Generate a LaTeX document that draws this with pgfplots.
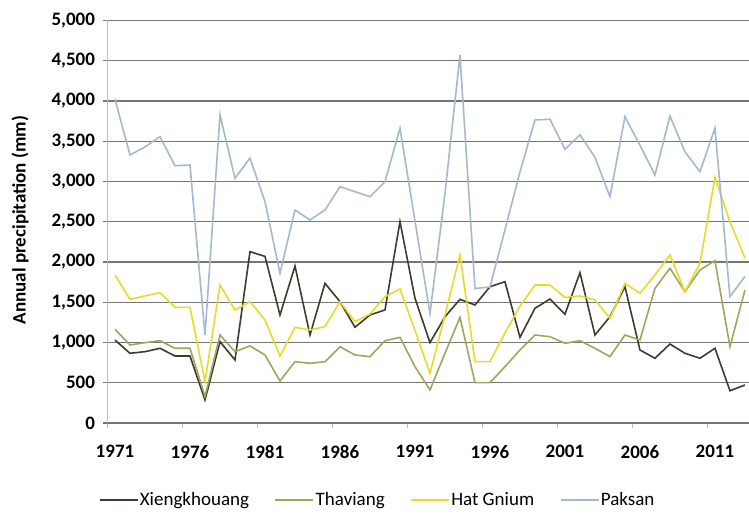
\documentclass[border=0pt]{standalone}
\usepackage{pgfplots}
\pgfplotsset{compat=1.18}
\usepackage{pgfplotstable}
\usepackage{fontspec}
\setmainfont{Carlito}
\definecolor{xieng}{RGB}{60,60,44}
\definecolor{thav}{RGB}{158,166,96}
\definecolor{hatg}{RGB}{232,218,40}
\definecolor{paks}{RGB}{164,184,208}
\definecolor{gridgray}{RGB}{118,118,118}
\definecolor{axgray}{RGB}{190,190,190}
\pgfplotstableread{
year xieng thav hatg paks
1971 1030 1164 1839 4020
1972 866 969 1536 3329
1973 886 998 1578 3430
1974 928 1022 1619 3557
1975 832 928 1437 3196
1976 832 928 1437 3205
1977 286 330 513 1093
1978 1010 1093 1714 3826
1979 783 886 1404 3040
1980 2128 957 1507 3290
1981 2070 845 1280 2750
1982 1342 522 832 1860
1983 1950 762 1189 2646
1984 1093 741 1155 2522
1985 1735 762 1197 2646
1986 1507 948 1507 2935
1987 1189 845 1259 2873
1988 1342 824 1354 2811
1989 1404 1022 1569 2998
1990 2501 1064 1665 3661
1991 1550 700 1150 2510
1992 998 410 617 1360
1993 1320 866 1340 2850
1994 1536 1313 2087 4571
1995 1466 501 762 1670
1996 1693 501 762 1690
1997 1755 700 1120 2400
1998 1064 907 1450 3120
1999 1425 1093 1714 3764
2000 1540 1072 1714 3773
2001 1350 990 1560 3400
2002 1867 1022 1578 3580
2003 1093 928 1528 3300
2004 1320 824 1300 2811
2005 1693 1093 1735 3805
2006 907 1031 1611 3450
2007 804 1673 1839 3081
2008 981 1922 2087 3814
2009 866 1631 1631 3370
2010 804 1901 1984 3122
2011 928 2016 3050 3661
2012 401 948 2500 1569
2013 472 1652 2050 1820
}\datatable
\begin{document}
\begin{tikzpicture}
\begin{axis}[
  at={(107.5pt,93pt)}, anchor=south west,
  scale only axis, width=641.5pt, height=402.5pt,
  xmin=1970.5, xmax=2013.27, ymin=0, ymax=5000,
  axis lines*=left,
  x axis line style={draw=gridgray, line width=1.3pt},
  y axis line style={draw=axgray, line width=0.8pt},
  tick align=outside, major tick length=5pt,
  ytick={0,500,...,5000},
  yticklabels={0,500,{1,000},{1,500},{2,000},{2,500},{3,000},{3,500},{4,000},{4,500},{5,000}},
  ymajorgrids, major grid style={draw=gridgray, line width=1.3pt},
  ytick style={draw=gridgray, line width=1.3pt},
  yticklabel style={xshift=-4pt},
  xtick={1970.5,1975.5,...,2010.5}, xticklabels={},
  xtick style={draw=axgray, line width=0.8pt},
  extra x ticks={1971,1976,...,2011},
  extra x tick labels={1971,1976,1981,1986,1991,1996,2001,2006,2011},
  extra x tick style={major tick length=0pt, grid=none, tick style={draw=none}},
  xticklabel style={yshift=-19pt},
  ticklabel style={font=\fontsize{19}{22}\selectfont\bfseries},
  ylabel={Annual precipitation (mm)},
  ylabel style={at={(axis description cs:-0.1364,0.504)}, anchor=center, font=\fontsize{19}{22}\selectfont\bfseries},
  legend columns=4,
  legend style={at={(axis description cs:0.4206,-0.191)}, anchor=center, draw=none,
    font=\fontsize{19}{22}\selectfont, nodes={inner sep=1.5pt},
    /tikz/every even column/.append style={column sep=24pt}},
  legend image code/.code={\draw[#1, line width=1.6pt] (0pt,0pt) -- (38pt,0pt);},
  every axis plot/.append style={line width=1.6pt, mark=none},
]
\addplot[xieng] table[x=year, y=xieng] {\datatable};
\addlegendentry{Xiengkhouang}
\addplot[thav] table[x=year, y=thav] {\datatable};
\addlegendentry{Thaviang}
\addplot[hatg] table[x=year, y=hatg] {\datatable};
\addlegendentry{Hat Gnium}
\addplot[paks] table[x=year, y=paks] {\datatable};
\addlegendentry{Paksan}
\end{axis}
\pgfresetboundingbox
\path[use as bounding box] (0pt,0pt) rectangle (749pt,516pt);
\end{tikzpicture}
\end{document}
